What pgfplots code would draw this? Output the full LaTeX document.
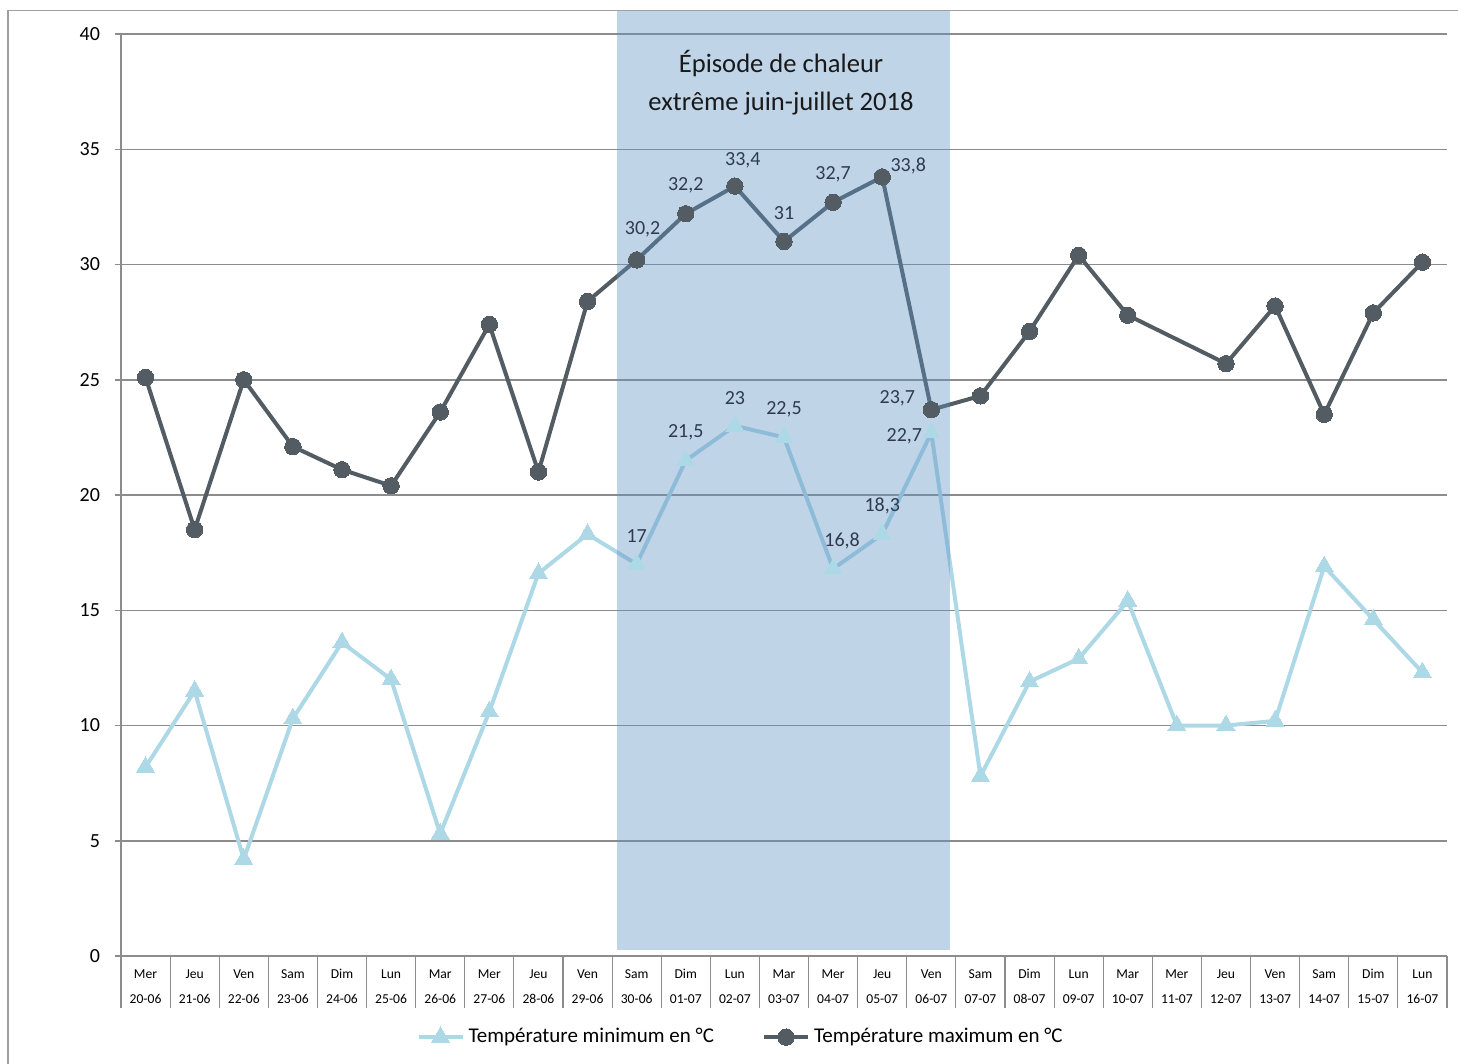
\documentclass[border=0pt]{standalone}
\usepackage{pgfplots}
\pgfplotsset{compat=1.18}
\usepackage{fontspec}
\setmainfont{Carlito}

\definecolor{tmax}{HTML}{525C62}
\definecolor{tmin}{HTML}{ADD8E6}
\definecolor{band}{HTML}{5E91C4}
\definecolor{lbl}{HTML}{2E3A4E}
\definecolor{gridc}{HTML}{8C8C8C}

% two-line category label: weekday over date
\newcommand{\dl}[2]{\strut#1\\\strut#2}

\begin{document}
\begin{tikzpicture}
\useasboundingbox (0,0) rectangle (729pt,-532pt);
% outer chart frame (left and top edges)
\draw[gray!75, line width=0.75pt] (4pt,-540pt) -- (4pt,-5.3pt) -- (740pt,-5.3pt);
\begin{axis}[
  at={(60.5pt,-478pt)}, anchor=south west,
  scale only axis, width=663pt, height=461pt,
  xmin=-0.5, xmax=26.5, ymin=0, ymax=40,
  clip=false,
  axis x line=bottom, axis y line=left,
  axis line style={gridc, line width=0.75pt, -},
  ytick={0,5,...,40},
  ymajorgrids, grid style={gridc, line width=0.75pt},
  tick align=outside,
  ytick style={gridc, line width=0.75pt},
  y tick label style={font=\fontsize{10}{12}\selectfont, xshift=-4pt},
  /pgf/number format/assume math mode=true,
  xtick={0,...,26},
  x tick style={gridc, line width=0.6pt},
  major x tick style={draw=none},
  minor xtick={-0.5,0.5,...,26.5},
  major tick length=3pt,
  minor tick length=26pt,
  xticklabels={{\dl{Mer}{20-06}},{\dl{Jeu}{21-06}},{\dl{Ven}{22-06}},{\dl{Sam}{23-06}},{\dl{Dim}{24-06}},{\dl{Lun}{25-06}},{\dl{Mar}{26-06}},{\dl{Mer}{27-06}},{\dl{Jeu}{28-06}},{\dl{Ven}{29-06}},{\dl{Sam}{30-06}},{\dl{Dim}{01-07}},{\dl{Lun}{02-07}},{\dl{Mar}{03-07}},{\dl{Mer}{04-07}},{\dl{Jeu}{05-07}},{\dl{Ven}{06-07}},{\dl{Sam}{07-07}},{\dl{Dim}{08-07}},{\dl{Lun}{09-07}},{\dl{Mar}{10-07}},{\dl{Mer}{11-07}},{\dl{Jeu}{12-07}},{\dl{Ven}{13-07}},{\dl{Sam}{14-07}},{\dl{Dim}{15-07}},{\dl{Lun}{16-07}}},
  xticklabel style={align=center, font=\fontsize{6.8}{12.5}\selectfont, anchor=north, inner sep=0pt, yshift=0.8pt},
  legend columns=2,
  legend style={draw=none, fill=none, at={(0.468,-0.088)}, anchor=center,
    font=\fontsize{10.5}{12}\selectfont,
    /tikz/every even column/.append style={column sep=22pt},
    cells={anchor=west}},
  legend image code/.code={
    \draw[mark repeat=2, mark phase=2] plot coordinates {(0pt,0pt) (11pt,0pt) (22pt,0pt)};},
]
% daily minimum
\addplot[tmin, line width=2pt, mark=triangle*, mark size=5.2pt,
  mark options={solid, fill=tmin, draw=tmin, line width=0pt}]
  coordinates {
  (0,8.2) (1,11.5) (2,4.2) (3,10.3) (4,13.6) (5,12.0) (6,5.3) (7,10.6) (8,16.6) (9,18.3)
  (10,17) (11,21.5) (12,23) (13,22.5) (14,16.8) (15,18.3) (16,22.7)
  (17,7.8) (18,11.9) (19,12.9) (20,15.4) (21,10.0) (22,10.0) (23,10.2) (24,16.9) (25,14.6) (26,12.3)};
\addlegendentry{Température minimum en °C}
% daily maximum (no reading on 11-07)
\addplot[tmax, line width=2pt, mark=*, mark size=4.1pt,
  mark options={solid, fill=tmax, draw=tmax, line width=0pt}]
  coordinates {
  (0,25.1) (1,18.5) (2,25.0) (3,22.1) (4,21.1) (5,20.4) (6,23.6) (7,27.4) (8,21.0) (9,28.4)
  (10,30.2) (11,32.2) (12,33.4) (13,31) (14,32.7) (15,33.8) (16,23.7)
  (17,24.3) (18,27.1) (19,30.4) (20,27.8) (22,25.7) (23,28.2) (24,23.5) (25,27.9) (26,30.1)};
\addlegendentry{Température maximum en °C}
% heat-wave period
\fill[band, fill opacity=0.39] (axis cs:9.59,0.26) rectangle (axis cs:16.39,41.0);
\node[font=\fontsize{13.3}{19}\selectfont, align=center, text=black!90] at (axis cs:12.94,37.9)
  {Épisode de chaleur\\extrême juin-juillet 2018};
% value labels during the heat wave
\addplot[forget plot, only marks, mark=none, point meta=explicit symbolic,
  nodes near coords,
  visualization depends on={\thisrow{dx} \as \dx},
  visualization depends on={\thisrow{dy} \as \dy},
  every node near coord/.append style={anchor=center, xshift=\dx pt, yshift=\dy pt,
    text=lbl, font=\fontsize{10}{12}\selectfont, inner sep=0pt}]
  table[x=x, y=y, meta=lab] {
  x  y    lab   dx    dy
  10 30.2 30,2  3     15.5
  11 32.2 32,2  0     14.5
  12 33.4 33,4  4     13
  13 31   31    0     14
  14 32.7 32,7  0     14
  15 33.8 33,8  13    5.5
  16 23.7 23,7  -17   5.5
  10 17   17    0     14
  11 21.5 21,5  0     14
  12 23   23    0     14
  13 22.5 22,5  0     14
  14 16.8 16,8  4.5   14
  15 18.3 18,3  0     14
  16 22.7 22,7  -13.5 -2
  };
\end{axis}
\end{tikzpicture}
\end{document}
